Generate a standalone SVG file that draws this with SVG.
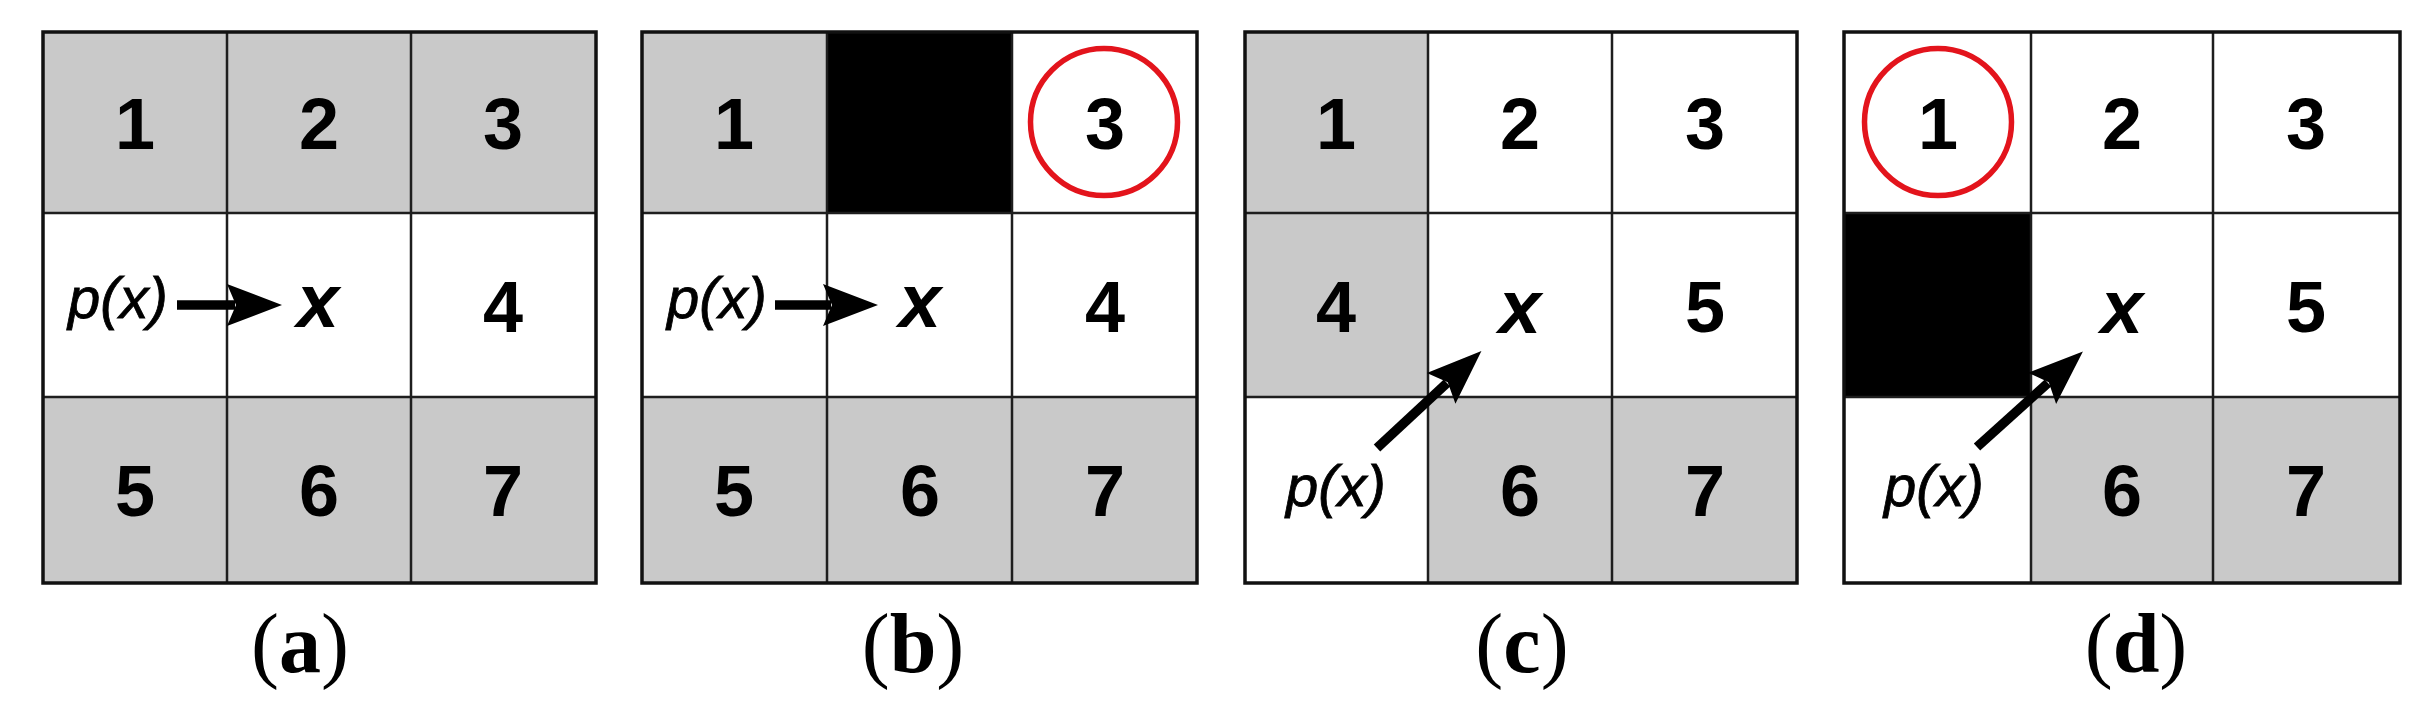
<svg xmlns="http://www.w3.org/2000/svg" width="2431" height="720" viewBox="0 0 2431 720">
<style>
.g{fill:#c9c9c9}
.w{fill:#ffffff}
.k{fill:#000000}
.ln{stroke:#1e1e1e;stroke-width:2.5;fill:none}
.bd{stroke:#111;stroke-width:3.5;fill:none}
.n{font-family:"Liberation Sans",Arial,sans-serif;font-weight:bold;font-size:72px;text-anchor:middle;fill:#000}
.x{font-family:"Liberation Sans",Arial,sans-serif;font-weight:bold;font-style:italic;font-size:76px;text-anchor:middle;fill:#000}
.p{font-family:"Liberation Sans",Arial,sans-serif;font-style:italic;font-size:58px;text-anchor:middle;fill:#000;stroke:#000;stroke-width:0.8}
.c{fill:none;stroke:#e3141c;stroke-width:5.5}
.lab{font-family:"Liberation Serif","Times New Roman",serif;font-size:84px;text-anchor:middle;fill:#000}
.arr{stroke:#000;stroke-width:9.5;fill:none;marker-end:url(#ah)}
</style>
<defs>
<marker id="ah" markerUnits="userSpaceOnUse" markerWidth="56" markerHeight="44" refX="8" refY="21" orient="auto" overflow="visible">
<path d="M0,0 L55,21 L0,42 L9,21 z" fill="#000"/>
</marker>
</defs>
<rect width="2431" height="720" fill="#fff"/>

<g id="grid-a">
<rect class="g" x="43" y="32" width="553" height="181"/>
<rect class="w" x="43" y="213" width="553" height="184"/>
<rect class="g" x="43" y="397" width="553" height="186"/>
<path class="ln" d="M227,32V583M411,32V583M43,213H596M43,397H596"/>
<rect class="bd" x="43" y="32" width="553" height="551"/>
<text class="n" x="135" y="149">1</text>
<text class="n" x="319" y="149">2</text>
<text class="n" x="503" y="149">3</text>
<text class="n" x="503" y="332">4</text>
<text class="n" x="135" y="516">5</text>
<text class="n" x="319" y="516">6</text>
<text class="n" x="503" y="516">7</text>
<text class="x" x="318" y="327">x</text>
<text class="p" x="118" y="318">p(x)</text>
</g>

<g id="grid-b">
<rect class="g" x="642" y="32" width="555" height="181"/>
<rect class="k" x="827" y="32" width="185" height="181"/>
<rect class="w" x="1012" y="32" width="185" height="181"/>
<rect class="w" x="642" y="213" width="555" height="184"/>
<rect class="g" x="642" y="397" width="555" height="186"/>
<path class="ln" d="M827,32V583M1012,32V583M642,213H1197M642,397H1197"/>
<rect class="bd" x="642" y="32" width="555" height="551"/>
<text class="n" x="734" y="149">1</text>
<text class="n" x="1105" y="149">3</text>
<text class="n" x="1105" y="332">4</text>
<text class="n" x="734" y="516">5</text>
<text class="n" x="920" y="516">6</text>
<text class="n" x="1105" y="516">7</text>
<text class="x" x="920" y="327">x</text>
<text class="p" x="717" y="318">p(x)</text>
<circle class="c" cx="1104" cy="122" r="73.5"/>
</g>

<g id="grid-c">
<rect class="w" x="1245" y="32" width="552" height="551"/>
<rect class="g" x="1245" y="32" width="183" height="365"/>
<rect class="g" x="1428" y="397" width="369" height="186"/>
<path class="ln" d="M1428,32V583M1612,32V583M1245,213H1797M1245,397H1797"/>
<rect class="bd" x="1245" y="32" width="552" height="551"/>
<text class="n" x="1336" y="149">1</text>
<text class="n" x="1520" y="149">2</text>
<text class="n" x="1705" y="149">3</text>
<text class="n" x="1336" y="332">4</text>
<text class="n" x="1705" y="332">5</text>
<text class="n" x="1520" y="516">6</text>
<text class="n" x="1705" y="516">7</text>
<text class="x" x="1520" y="333">x</text>
<text class="p" x="1336" y="506">p(x)</text>
</g>

<g id="grid-d">
<rect class="w" x="1844" y="32" width="556" height="551"/>
<rect class="k" x="1844" y="213" width="187" height="184"/>
<rect class="g" x="2031" y="397" width="369" height="186"/>
<path class="ln" d="M2031,32V583M2213,32V583M1844,213H2400M1844,397H2400"/>
<rect class="bd" x="1844" y="32" width="556" height="551"/>
<text class="n" x="1938" y="149">1</text>
<text class="n" x="2122" y="149">2</text>
<text class="n" x="2306" y="149">3</text>
<text class="n" x="2306" y="332">5</text>
<text class="n" x="2122" y="516">6</text>
<text class="n" x="2306" y="516">7</text>
<text class="x" x="2122" y="333">x</text>
<text class="p" x="1934" y="506">p(x)</text>
<circle class="c" cx="1938" cy="122" r="73.5"/>
</g>

<g id="connectors">
<path class="arr" d="M177,305L235,305"/>
<path class="arr" d="M775,305L831,305"/>
<path class="arr" d="M1377,448L1447,383"/>
<path class="arr" d="M1977,447L2048,383"/>
</g>

<g id="labels">
<text class="lab" x="300" y="672">(<tspan font-weight="bold">a</tspan>)</text>
<text class="lab" x="913" y="672">(<tspan font-weight="bold">b</tspan>)</text>
<text class="lab" x="1522" y="672">(<tspan font-weight="bold">c</tspan>)</text>
<text class="lab" x="2136" y="672">(<tspan font-weight="bold">d</tspan>)</text>
</g>
</svg>
